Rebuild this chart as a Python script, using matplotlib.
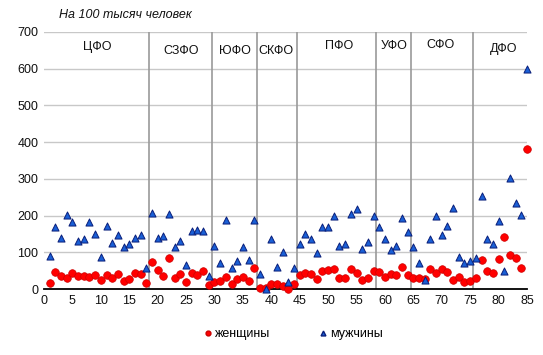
import matplotlib
matplotlib.use('Agg')
import matplotlib.pyplot as plt
from matplotlib.lines import Line2D

plt.rcParams['font.family'] = ['Liberation Sans', 'DejaVu Sans']

# region numbers 1..85
regions = list(range(1, 86))

women = [15, 47, 35, 29, 44, 35, 35, 33, 37, 24, 37, 29, 41, 23, 27, 43, 42, 15,
         73, 51, 36, 84, 29, 40, 19, 44, 39, 50, 11,
         20, 23, 33, 14, 26, 32, 21, 58,
         4, 2, 14, 14, 9, 1, 14,
         39, 44, 41, 27, 50, 52, 54, 30, 30, 55, 44, 24, 31, 48,
         45, 33, 40, 38, 61, 38,
         29, 31, 27, 54, 44, 55, 45, 24, 33, 20, 22,
         29, 79, 48, 44, 82, 141, 93, 84, 58, 382]

men = [90, 169, 139, 202, 182, 131, 137, 182, 151, 88, 171, 124, 148, 115, 122, 139, 148, 56,
       208, 139, 145, 204, 115, 131, 66, 157, 162, 159, 35,
       118, 72, 189, 58, 75, 115, 78, 188,
       40, 0, 135, 59, 100, 18, 56,
       123, 151, 137, 99, 170, 170, 198, 118, 123, 203, 217, 108, 129, 200,
       168, 135, 107, 117, 194, 156,
       115, 70, 25, 135, 200, 146, 171, 220, 86, 70, 75,
       85, 254, 137, 122, 186, 50, 301, 235, 202, 598]

districts = ["ЦФО", "СЗФО", "ЮФО", "СКФО", "ПФО", "УФО", "СФО", "ДФО"]
district_sizes = [18, 11, 8, 7, 14, 6, 11, 10]

RED = "#ff0000"
RED_EDGE = "#cc0000"
BLUE = "#1a5fd6"
BLUE_EDGE = "#0a1f7a"

fig = plt.figure(figsize=(5.43, 3.55), dpi=100)
ax = fig.add_axes([44 / 543, 1 - 289 / 355, 483 / 543, 257 / 355])

ax.set_xlim(0, 85)
ax.set_ylim(0, 700)

# horizontal grid
for v in range(100, 701, 100):
    ax.axhline(v, color="#c8c8c8", lw=1.0, zorder=0)

# district boundaries
bounds = []
start = 0
for n in district_sizes:
    bounds.append((start, start + n))
    start += n
for s, e in bounds[:-1]:
    ax.vlines(e + 0.5, 0, 700, color="#9a9a9a", lw=1.2, zorder=1)

label_y = [658, 647, 647, 647, 661, 661, 664, 653]
label_x = [9.3, 24.1, 33.6, 40.8, 51.9, 61.6, 69.8, 80.9]
for name, lx, ly in zip(districts, label_x, label_y):
    ax.text(lx, ly, name, ha="center", va="center", fontsize=9, color="#111111")

ax.scatter(regions, women, s=30, marker="o", color=RED, edgecolors=RED_EDGE,
           linewidths=0.5, zorder=3, clip_on=False)
ax.scatter(regions, men, s=26, marker="^", color=BLUE, edgecolors=BLUE_EDGE,
           linewidths=0.7, zorder=4, clip_on=False)

for sp in ["top", "right", "left"]:
    ax.spines[sp].set_visible(False)
ax.spines["bottom"].set_color("#000000")
ax.spines["bottom"].set_linewidth(1.3)
ax.spines["bottom"].set_zorder(2)

ax.set_xticks(range(0, 86, 5))
ax.set_yticks(range(0, 701, 100))
ax.tick_params(length=0, labelsize=9, pad=4, colors="#111111")

fig.text(59 / 543, 1 - 15 / 355, "На 100 тысяч человек", ha="left", va="center",
         fontsize=9, style="italic", color="#111111")

handles = [
    Line2D([], [], marker="o", ls="none", color=RED, markeredgecolor=RED_EDGE,
           markersize=3.5, label="женщины"),
    Line2D([], [], marker="^", ls="none", color=BLUE, markeredgecolor=BLUE_EDGE,
           markersize=3.5, label="мужчины"),
]
fig.legend(handles=handles, loc="center", bbox_to_anchor=(294 / 543, 1 - 334 / 355),
           ncol=2, frameon=False, fontsize=9, handlelength=0.5, handletextpad=0.3,
           columnspacing=4.0)

fig.savefig("out.png", dpi=100)
